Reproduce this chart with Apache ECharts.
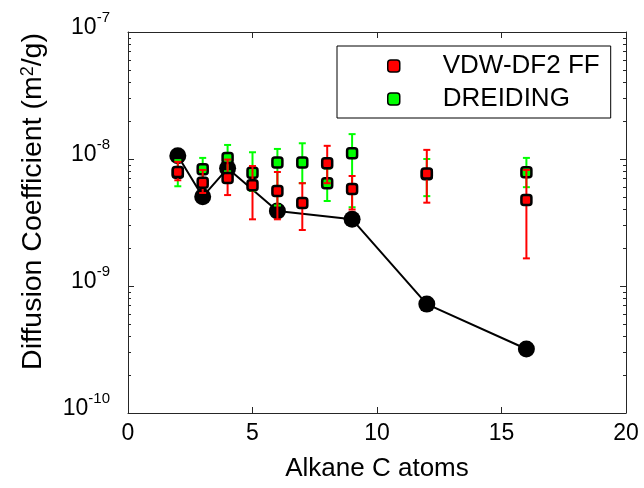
<!DOCTYPE html>
<html>
<head>
<meta charset="utf-8">
<script src="https://cdn.jsdelivr.net/npm/echarts@6/dist/echarts.min.js"></script>
<style>html,body{margin:0;padding:0;background:#fff}#c{width:644px;height:488px}</style>
</head>
<body>
<div id="c"></div>
<script>
// ---- data ----
var xVals = [2, 3, 4, 5, 6, 7, 8, 9, 12, 16];
var vdwMean = [7.9e-9, 6.5e-9, 7.1e-9, 6.2e-9, 5.6e-9, 4.5e-9, 9.25e-9, 5.8e-9, 7.7e-9, 4.75e-9];
var vdwLow  = [6.8e-9, 5.4e-9, 5.2e-9, 3.35e-9, 3.35e-9, 2.76e-9, 6.45e-9, 4.0e-9, 4.53e-9, 1.65e-9];
var vdwHigh = [9.5e-9, 8.2e-9, 9.9e-9, 8.8e-9, 7.9e-9, 6.45e-9, 1.27e-8, 7.35e-9, 1.18e-8, 8.2e-9];
var dreMean = [7.8e-9, 8.3e-9, 1.02e-8, 7.8e-9, 9.4e-9, 9.4e-9, 6.45e-9, 1.11e-8, 7.6e-9, 7.85e-9];
var dreLow  = [6.1e-9, 6.6e-9, 8.0e-9, 5.6e-9, 4.3e-9, 6.45e-9, 4.67e-9, 4.17e-9, 5.1e-9, 6.0e-9];
var dreHigh = [9.8e-9, 1.02e-8, 1.29e-8, 1.13e-8, 1.2e-8, 1.33e-8, 8.4e-9, 1.57e-8, 1.0e-8, 1.02e-8];
var expX    = [2, 3, 4, 6, 9, 12, 16];
var expVals = [1.06e-8, 5.05e-9, 8.45e-9, 3.9e-9, 3.35e-9, 7.2e-10, 3.19e-10];
var seriesNames = ['VDW-DF2 FF', 'DREIDING'];
var xTitle = 'Alkane C atoms';
var xRange = [0, 20, 5];
var yRange = [1e-10, 1e-7];

// ---- build ----
var FONT = "'Liberation Sans', Arial, Helvetica, sans-serif";
function zip2(a, b) { return a.map(function (v, i) { return [v, b[i]]; }); }
function zip3(a, b, c) { return a.map(function (v, i) { return [v, b[i], c[i]]; }); }
var minorVals = [];
for (var d = -10; d < -7; d++) { for (var k = 2; k <= 9; k++) { minorVals.push(k * Math.pow(10, d)); } }

function errRender(color) {
  return function (params, api) {
    var x = api.value(0), lo = api.value(1), hi = api.value(2);
    var pHi = api.coord([x, hi]), pLo = api.coord([x, lo]);
    var w = 3.5;
    var st = { stroke: color, lineWidth: 2 };
    return {
      type: 'group',
      children: [
        { type: 'line', shape: { x1: pHi[0], y1: pHi[1], x2: pLo[0], y2: pLo[1] }, style: st },
        { type: 'line', shape: { x1: pHi[0] - w, y1: pHi[1], x2: pHi[0] + w, y2: pHi[1] }, style: st },
        { type: 'line', shape: { x1: pLo[0] - w, y1: pLo[1], x2: pLo[0] + w, y2: pLo[1] }, style: st }
      ]
    };
  };
}

var axLine = { show: true, lineStyle: { color: '#262626', width: 1 } };
function yAx(pos, opts) {
  var o = {
    type: 'log', logBase: 10, min: yRange[0], max: yRange[1], position: pos,
    axisLine: axLine, splitLine: { show: false },
    axisLabel: { show: false },
    axisTick: { show: true, inside: true, length: 6, lineStyle: { color: '#262626' } }
  };
  for (var key in opts) o[key] = opts[key];
  return o;
}

var option = {
  animation: false,
  backgroundColor: '#fff',
  textStyle: { fontFamily: FONT },
  grid: { left: 128, right: 18, top: 32, bottom: 75, containLabel: false },
  legend: {
    orient: 'vertical', left: 337, top: 46,
    padding: [5, 11, 4, 50],
    borderColor: '#000', borderWidth: 1, backgroundColor: '#fff',
    data: seriesNames,
    itemWidth: 12, itemHeight: 12, itemGap: 3,
    icon: 'roundRect',
    itemStyle: { borderColor: '#000', borderWidth: 1.5 },
    textStyle: { fontSize: 26, color: '#000', fontFamily: FONT, lineHeight: 30, padding: [0, 0, 0, 38] }
  },
  xAxis: [
    {
      type: 'value', min: xRange[0], max: xRange[1], interval: xRange[2], position: 'bottom',
      axisLine: axLine, splitLine: { show: false },
      axisTick: { show: true, inside: true, length: 6, lineStyle: { color: '#262626' } },
      axisLabel: { fontSize: 23, color: '#000', margin: 9, fontFamily: FONT },
      name: xTitle, nameLocation: 'middle', nameGap: 43,
      nameTextStyle: { fontSize: 26, color: '#000', fontFamily: FONT }
    },
    {
      type: 'value', min: xRange[0], max: xRange[1], interval: xRange[2], position: 'top',
      axisLine: axLine, splitLine: { show: false },
      axisTick: { show: true, inside: true, length: 6, lineStyle: { color: '#262626' } },
      axisLabel: { show: false }
    }
  ],
  yAxis: [
    yAx('left', {
      axisLabel: {
        show: true, margin: 18, color: '#000',
        formatter: function (v) {
          var e = Math.round(Math.log(v) / Math.LN10);
          return '{b|10}{s|' + e + '}';
        },
        rich: {
          b: { fontSize: 23, lineHeight: 23, color: '#000', fontFamily: FONT, verticalAlign: 'bottom', padding: [0, 0, 4, 0] },
          s: { fontSize: 15, lineHeight: 15, color: '#000', fontFamily: FONT, verticalAlign: 'bottom', padding: [0, 0, 18, 0] }
        }
      },
      name: 'Diffusion Coefficient (m{sup|2}/g)',
      nameLocation: 'middle', nameRotate: 90, nameGap: 80,
      nameTextStyle: {
        fontSize: 28.5, color: '#000', fontFamily: FONT, padding: [0, 0, 0, 42],
        rich: { sup: { fontSize: 18, color: '#000', fontFamily: FONT, verticalAlign: 'top', lineHeight: 18 } }
      }
    }),
    yAx('left', { axisLine: { show: false }, axisTick: { show: true, inside: true, length: 3, customValues: minorVals, lineStyle: { color: '#262626' } } }),
    yAx('right', {}),
    yAx('right', { axisLine: { show: false }, axisTick: { show: true, inside: true, length: 3, customValues: minorVals, lineStyle: { color: '#262626' } } })
  ],
  series: [
    {
      name: 'Experiment', type: 'line', data: zip2(expX, expVals), z: 2,
      symbol: 'circle', symbolSize: 17,
      lineStyle: { color: '#000', width: 2 },
      itemStyle: { color: '#000', borderWidth: 0 }
    },
    {
      name: 'DREIDING err', type: 'custom', data: zip3(xVals, dreLow, dreHigh), z: 3,
      encode: { x: 0, y: [1, 2] }, renderItem: errRender('#00ff00')
    },
    {
      name: seriesNames[1], type: 'scatter', data: zip2(xVals, dreMean), z: 4,
      symbol: 'roundRect', symbolSize: 10,
      itemStyle: { color: '#00ff00', borderColor: '#000', borderWidth: 2.5, opacity: 1 }
    },
    {
      name: 'VDW err', type: 'custom', data: zip3(xVals, vdwLow, vdwHigh), z: 5,
      encode: { x: 0, y: [1, 2] }, renderItem: errRender('#ff0000')
    },
    {
      name: seriesNames[0], type: 'scatter', data: zip2(xVals, vdwMean), z: 6,
      symbol: 'roundRect', symbolSize: 10,
      itemStyle: { color: '#ff0000', borderColor: '#000', borderWidth: 2.5, opacity: 1 }
    }
  ]
};
var chart = echarts.init(document.getElementById('c'), null, { renderer: 'canvas' });
chart.setOption(option);
</script>
</body>
</html>
